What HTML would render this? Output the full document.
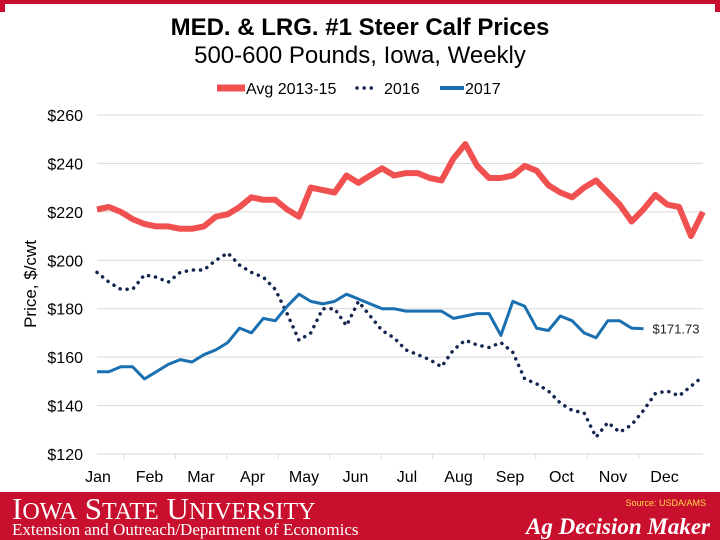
<!DOCTYPE html>
<html><head><meta charset="utf-8"><style>
body{margin:0;width:720px;height:540px;overflow:hidden;background:#fff;font-family:"Liberation Sans",Arial,sans-serif}
svg{display:block}
</style></head><body>
<svg id="chart" width="720" height="540">
<rect x="0" y="0" width="720" height="4" fill="#c8102e"/>
<rect x="0" y="0" width="5" height="12" fill="#c8102e"/>
<rect x="715" y="0" width="5" height="12" fill="#c8102e"/>
<text x="360" y="35" text-anchor="middle" font-size="24" font-weight="bold" fill="#000">MED. &amp; LRG. #1 Steer Calf Prices</text>
<text x="360" y="63" text-anchor="middle" font-size="24" fill="#000">500-600 Pounds, Iowa, Weekly</text>
<g>
<g><line x1="217" y1="88" x2="245" y2="88" stroke="#f0504f" stroke-width="7"/><text x="246" y="94" font-size="16">Avg 2013-15</text></g>
<g><line x1="357" y1="88" x2="378" y2="88" stroke="#14254f" stroke-width="3.5" stroke-dasharray="0.1 7" stroke-linecap="round"/><text x="384" y="94" font-size="16">2016</text></g>
<g><line x1="440" y1="88" x2="464" y2="88" stroke="#1a6fb0" stroke-width="4"/><text x="465" y="94" font-size="16">2017</text></g>
</g>
<g id="grid"></g>
<g id="yticks"></g>
<g id="xticks"></g>
<text transform="translate(36,284) rotate(-90)" text-anchor="middle" font-size="17">Price, $/cwt</text>
<g id="series"></g>
<rect x="0" y="492" width="720" height="48" fill="#c8102e"/>
<text x="12" y="519" font-family="Liberation Serif,serif" font-size="31" fill="#fff">I<tspan font-size="24">OWA</tspan> S<tspan font-size="24">TATE</tspan> U<tspan font-size="24">NIVERSITY</tspan></text>
<text x="12" y="535" font-family="Liberation Serif,serif" font-size="17" fill="#fff">Extension and Outreach/Department of Economics</text>
<text x="706" y="506" text-anchor="end" font-size="9" fill="#ffd84a">Source: USDA/AMS</text>
<text x="710" y="534" text-anchor="end" font-family="Liberation Serif,serif" font-size="23" font-style="italic" font-weight="bold" fill="#fff">Ag Decision Maker</text>
</svg>
<script>
const months=["Jan","Feb","Mar","Apr","May","Jun","Jul","Aug","Sep","Oct","Nov","Dec"];
const yTicks=[120,140,160,180,200,220,240,260];
const avg1315=[221,222,220,217,215,214,214,213,213,214,218,219,222,226,225,225,221,218,230,229,228,235,232,235,238,235,236,236,234,233,242,248,239,234,234,235,239,237,231,228,226,230,233,228,223,216,221,227,223,222,210,220];
const y2016=[195,191,188,188,194,193,191,195,196,196,200,203,198,195,193,188,178,167,170,180,180,173,183,177,171,168,163,161,159,156,163,167,165,164,166,162,151,149,146,141,138,137,127,133,129,132,138,145,146,144,148,152];
const y2017=[154,154,156,156,151,154,157,159,158,161,163,166,172,170,176,175,181,186,183,182,183,186,184,182,180,180,179,179,179,179,176,177,178,178,169,183,181,172,171,177,175,170,168,175,175,172,171.73];
const lastLabel="$171.73";
const NS="http://www.w3.org/2000/svg";
const X0=97,WK=11.88,YB=454,YT=115,VMIN=120,VMAX=260;
const xw=i=>X0+i*WK;
const yv=v=>YB-(v-VMIN)*(YB-YT)/(VMAX-VMIN);
function mk(tag,attrs,parent){const e=document.createElementNS(NS,tag);for(const k in attrs)e.setAttribute(k,attrs[k]);parent.appendChild(e);return e;}
const grid=document.getElementById('grid'),yt=document.getElementById('yticks'),xt=document.getElementById('xticks'),ser=document.getElementById('series');
yTicks.forEach(v=>{
 const l=mk('line',{x1:97,x2:703,y1:yv(v),y2:yv(v),stroke:'#d9d9d9','stroke-width':1},grid);
 
 
 const t=mk('text',{x:83,y:yv(v)+6,'text-anchor':'end','font-size':16,fill:'#000'},yt);
 t.textContent='$'+v;
 
 
});
months.forEach((m,i)=>{
 const cx=98+i*51.5;
 const tk=mk('line',{x1:cx-25.75,x2:cx-25.75,y1:454,y2:459,stroke:'#d9d9d9'},xt);
 
 
 const t=mk('text',{x:cx,y:482,'text-anchor':'middle','font-size':16,fill:'#000'},xt);
 t.textContent=m;
 
 
});
function pts(a){return a.map((v,i)=>xw(i).toFixed(1)+','+yv(v).toFixed(1)).join(' ');}
const pa=mk('polyline',{points:pts(avg1315),fill:'none',stroke:'#f0504f','stroke-width':6,'stroke-linejoin':'round'},ser);


const p6=mk('polyline',{points:pts(y2016),fill:'none',stroke:'#14254f','stroke-width':3.5,'stroke-dasharray':'0.1 7','stroke-linecap':'round'},ser);


const p7=mk('polyline',{points:pts(y2017),fill:'none',stroke:'#1a6fb0','stroke-width':3,'stroke-linejoin':'round'},ser);


const li=y2017.length-1;
const lb=mk('text',{x:xw(li)+9,y:yv(y2017[li])+5,'font-size':13,fill:'#222'},ser);
lb.textContent=lastLabel;


</script>
</body></html>
